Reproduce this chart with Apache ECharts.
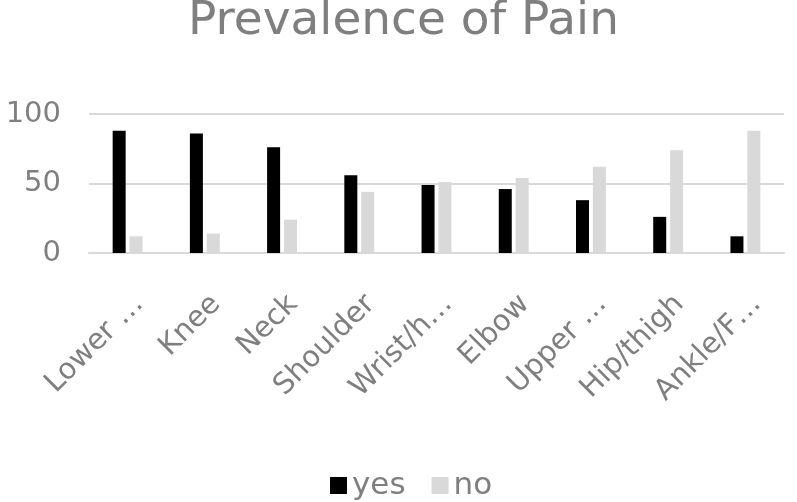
<!DOCTYPE html>
<html>
<head>
<meta charset="utf-8">
<script src="https://cdn.jsdelivr.net/npm/echarts@6/dist/echarts.min.js"></script>
<style>
  html, body { margin: 0; padding: 0; background: #fff; }
  #chart { width: 797px; height: 502px; }
</style>
</head>
<body>
<div id="chart"></div>
<script>
// values
const categories = ['Lower …', 'Knee', 'Neck', 'Shoulder', 'Wrist/h…', 'Elbow', 'Upper …', 'Hip/thigh', 'Ankle/F…'];
const yesValues = [88, 86, 76, 56, 49, 46, 38, 26, 12];
const noValues = [12, 14, 24, 44, 51, 54, 62, 74, 88];

const textGray = '#7f7f7f';
const font = 'DejaVu Sans';

const myChart = echarts.init(document.getElementById('chart'));

const option = {
  animation: false,
  title: {
    text: 'Prevalence of Pain',
    left: 188,
    top: -2,
    padding: 0,
    textStyle: {
      color: textGray,
      fontFamily: font,
      fontWeight: 'normal',
      fontSize: 47
    }
  },
  legend: {
    left: 325,
    top: 465,
    itemWidth: 17,
    itemHeight: 17,
    itemGap: 26,
    icon: 'rect',
    textStyle: {
      color: textGray,
      fontFamily: font,
      fontSize: 31
    },
    data: ['yes', 'no']
  },
  grid: {
    left: 89,
    right: 13,
    top: 114,
    bottom: 249
  },
  xAxis: {
    type: 'category',
    data: categories,
    axisLine: { lineStyle: { color: '#d9d9d9', width: 2 } },
    axisTick: { show: false },
    axisLabel: {
      rotate: 45,
      interval: 0,
      margin: 58,
      padding: [0, -16, 0, 0],
      color: textGray,
      fontFamily: font,
      fontSize: 29
    }
  },
  yAxis: {
    type: 'value',
    min: 0,
    max: 100,
    interval: 50,
    axisLine: { show: false },
    axisTick: { show: false },
    splitLine: { lineStyle: { color: '#d9d9d9', width: 2 } },
    axisLabel: {
      margin: 28,
      color: textGray,
      fontFamily: font,
      fontSize: 29
    }
  },
  series: [
    {
      name: 'yes',
      type: 'bar',
      data: yesValues,
      barWidth: 13,
      barGap: '30%',
      itemStyle: { color: '#000000' }
    },
    {
      name: 'no',
      type: 'bar',
      data: noValues,
      barWidth: 13,
      itemStyle: { color: '#d9d9d9' }
    }
  ]
};

option && myChart.setOption(option);
</script>
</body>
</html>
